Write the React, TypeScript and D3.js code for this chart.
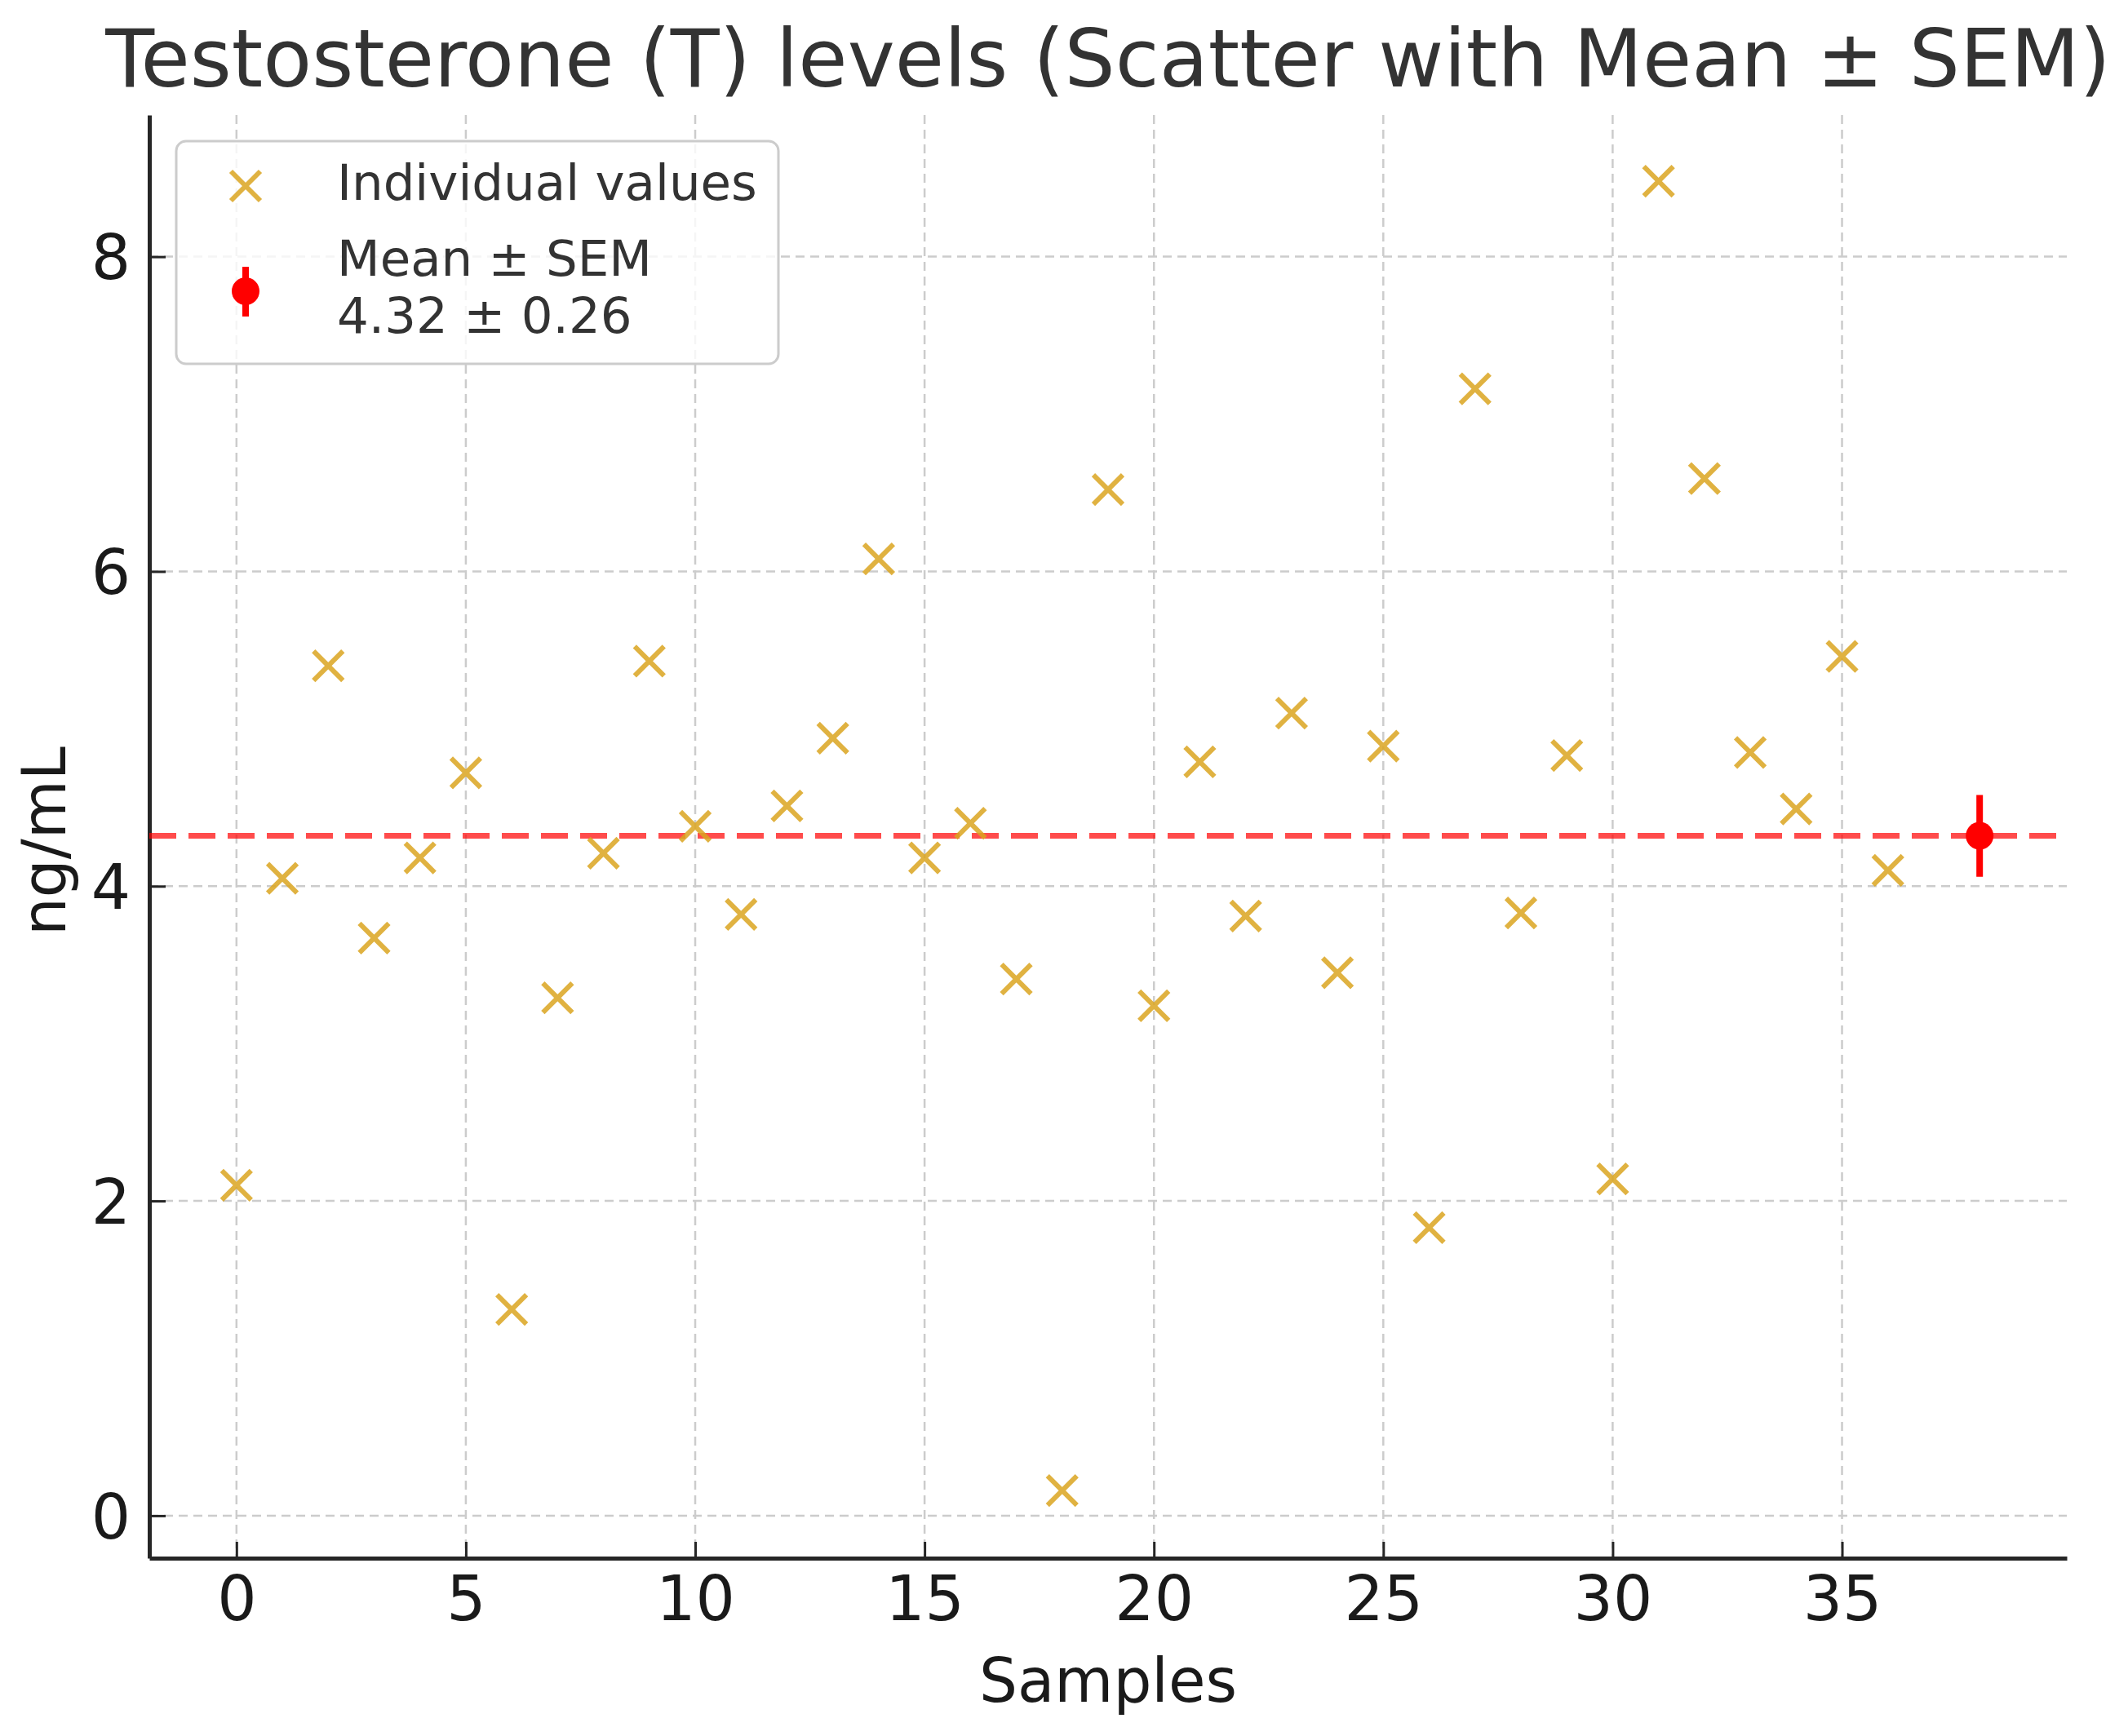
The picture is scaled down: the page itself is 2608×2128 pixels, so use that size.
import React, { useEffect, useRef } from 'react';
import * as d3 from 'd3';

// values
const sampleIds: number[] = Array.from({ length: 37 }, (_, i) => i);
const tValues: number[] = [
  2.10, 4.05, 5.40, 3.67, 4.18, 4.72, 1.31, 3.29, 4.21, 5.43,
  4.38, 3.82, 4.51, 4.94, 6.08, 4.18, 4.40, 3.41, 0.16, 6.52,
  3.24, 4.79, 3.81, 5.10, 3.45, 4.89, 1.83, 7.16, 3.83, 4.83,
  2.14, 8.48, 6.59, 4.85, 4.49, 5.46, 4.10,
];
const MEAN = 4.32;
const SEM = 0.26;
const meanX = 38;

const xTicks = [0, 5, 10, 15, 20, 25, 30, 35];
const yTicks = [0, 2, 4, 6, 8];

const W = 2608;
const H = 2128;
const FONT = '"DejaVu Sans", Verdana, sans-serif';

// "x" marker, half-extent in px
function crossPath(h: number) {
  const p = d3.path();
  p.moveTo(-h, -h); p.lineTo(h, h);
  p.moveTo(-h, h); p.lineTo(h, -h);
  return p.toString();
}

export default function App() {
  const svgRef = useRef<SVGSVGElement>(null);

  useEffect(() => {
    if (!svgRef.current) return;
    const svg = d3.select(svgRef.current);
    svg.selectAll('*').remove();

    const left = 183, right = 2533, top = 141, bottom = 1910;
    const x = d3.scaleLinear().domain([-1.9, 39.9]).range([left, right]);
    const y = d3.scaleLinear().domain([-0.27, 8.9]).range([bottom, top]);

    svg.append('rect').attr('width', W).attr('height', H).attr('fill', '#fff');

    // grid
    const grid = svg.append('g')
      .attr('stroke', '#cccccc')
      .attr('stroke-width', 2.5)
      .attr('stroke-dasharray', '11 7');
    xTicks.forEach(t => {
      grid.append('line')
        .attr('x1', x(t)).attr('x2', x(t))
        .attr('y1', top).attr('y2', bottom);
    });
    yTicks.forEach(t => {
      grid.append('line')
        .attr('x1', left).attr('x2', right)
        .attr('y1', y(t)).attr('y2', y(t));
    });

    // axes (ticks inward)
    const xAxis = svg.append('g')
      .attr('transform', `translate(0,${bottom})`)
      .call(d3.axisBottom(x).tickValues(xTicks).tickFormat(d3.format('d'))
        .tickSizeInner(-20).tickSizeOuter(0).tickPadding(22));
    const yAxis = svg.append('g')
      .attr('transform', `translate(${left},0)`)
      .call(d3.axisLeft(y).tickValues(yTicks).tickFormat(d3.format('d'))
        .tickSizeInner(-20).tickSizeOuter(0).tickPadding(23));
    [xAxis, yAxis].forEach(a => {
      a.select('.domain').attr('stroke', '#262626').attr('stroke-width', 5);
      a.selectAll('.tick line').attr('stroke', '#262626').attr('stroke-width', 3);
      a.selectAll('.tick text')
        .attr('fill', '#1a1a1a')
        .style('font-family', FONT)
        .style('font-size', '76px');
    });
    yAxis.selectAll('.tick text').attr('dy', '0.36em');

    // mean line
    svg.append('line')
      .attr('x1', left).attr('x2', right)
      .attr('y1', y(MEAN)).attr('y2', y(MEAN))
      .attr('stroke', 'red')
      .attr('stroke-opacity', 0.7)
      .attr('stroke-width', 7)
      .attr('stroke-dasharray', '33 15');

    // individual values
    const cross = crossPath(18);
    svg.append('g')
      .selectAll('path')
      .data(tValues)
      .join('path')
      .attr('transform', (d, i) => `translate(${x(sampleIds[i])},${y(d)})`)
      .attr('d', cross)
      .attr('fill', 'none')
      .attr('stroke', '#DAA520')
      .attr('stroke-opacity', 0.85)
      .attr('stroke-width', 6);

    // mean ± SEM
    svg.append('line')
      .attr('x1', x(meanX)).attr('x2', x(meanX))
      .attr('y1', y(MEAN - SEM)).attr('y2', y(MEAN + SEM))
      .attr('stroke', 'red').attr('stroke-width', 8);
    svg.append('circle')
      .attr('cx', x(meanX)).attr('cy', y(MEAN)).attr('r', 17)
      .attr('fill', 'red');

    // legend
    const lg = svg.append('g');
    lg.append('rect')
      .attr('x', 216).attr('y', 173).attr('width', 738).attr('height', 273)
      .attr('rx', 12)
      .attr('fill', '#fff').attr('fill-opacity', 0.8)
      .attr('stroke', '#cccccc').attr('stroke-width', 3);
    lg.append('path')
      .attr('transform', 'translate(301,228)')
      .attr('d', cross)
      .attr('fill', 'none')
      .attr('stroke', '#DAA520')
      .attr('stroke-opacity', 0.85)
      .attr('stroke-width', 6);
    lg.append('line')
      .attr('x1', 301).attr('x2', 301).attr('y1', 327).attr('y2', 388)
      .attr('stroke', 'red').attr('stroke-width', 8);
    lg.append('circle').attr('cx', 301).attr('cy', 357).attr('r', 17).attr('fill', 'red');

    const fmt = d3.format('.2f');
    const legendText: [string, number][] = [
      ['Individual values', 245],
      ['Mean ± SEM', 338],
      [`${fmt(MEAN)} ± ${fmt(SEM)}`, 408],
    ];
    legendText.forEach(([t, by]) => {
      lg.append('text')
        .attr('x', 413).attr('y', by)
        .text(t)
        .attr('fill', '#333')
        .style('font-family', FONT)
        .style('font-size', '61px');
    });

    // labels
    svg.append('text')
      .attr('x', (left + right) / 2).attr('y', 106)
      .attr('text-anchor', 'middle')
      .text('Testosterone (T) levels (Scatter with Mean ± SEM)')
      .attr('fill', '#333')
      .style('font-family', FONT)
      .style('font-size', '98px');
    svg.append('text')
      .attr('x', (left + right) / 2).attr('y', 2086)
      .attr('text-anchor', 'middle')
      .text('Samples')
      .attr('fill', '#1a1a1a')
      .style('font-family', FONT)
      .style('font-size', '74px');
    svg.append('text')
      .attr('transform', 'translate(80,1031) rotate(-90)')
      .attr('text-anchor', 'middle')
      .text('ng/mL')
      .attr('fill', '#1a1a1a')
      .style('font-family', FONT)
      .style('font-size', '74px');
  }, []);

  return (
    <svg
      ref={svgRef}
      width={W}
      height={H}
      style={{ position: 'absolute', left: 0, top: 0, display: 'block' }}
    />
  );
}
